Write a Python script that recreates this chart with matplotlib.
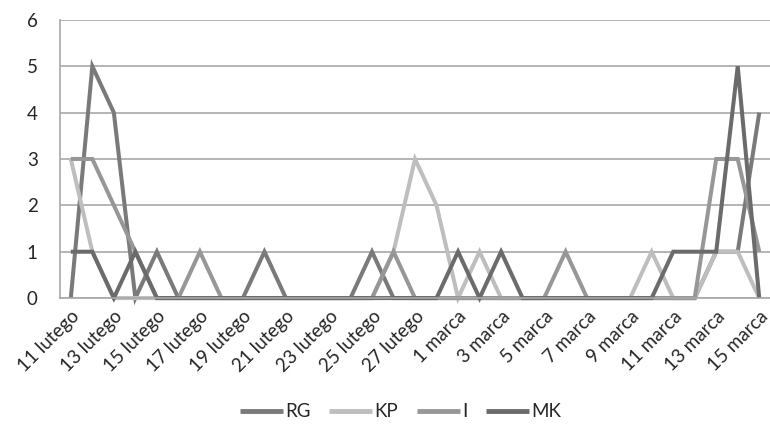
import matplotlib
matplotlib.use("Agg")
import matplotlib.pyplot as plt

plt.rcParams['font.family'] = ['Lato', 'DejaVu Sans']

# one value per day, 11 lutego .. 15 marca
RG = [0, 5, 4, 0, 1, 0, 0, 0, 0, 1, 0, 0, 0, 0, 1, 0, 0,
      0, 0, 0, 0, 0, 0, 0, 0, 0, 0, 0, 0, 0, 1, 1, 4]
KP = [3, 1, 0, 0, 0, 0, 0, 0, 0, 0, 0, 0, 0, 0, 0, 1, 3,
      2, 0, 1, 0, 0, 0, 0, 0, 0, 0, 1, 0, 0, 1, 1, 0]
I = [3, 3, 2, 1, 0, 0, 1, 0, 0, 0, 0, 0, 0, 0, 0, 1, 0,
     0, 0, 0, 0, 0, 0, 1, 0, 0, 0, 0, 0, 0, 3, 3, 1]
MK = [1, 1, 0, 1, 0, 0, 0, 0, 0, 0, 0, 0, 0, 0, 0, 0, 0,
      0, 1, 0, 1, 0, 0, 0, 0, 0, 0, 0, 1, 1, 1, 5, 0]

tick_labels = ["11 lutego", "13 lutego", "15 lutego", "17 lutego", "19 lutego",
               "21 lutego", "23 lutego", "25 lutego", "27 lutego", "1 marca",
               "3 marca", "5 marca", "7 marca", "9 marca", "11 marca",
               "13 marca", "15 marca"]

series = [("RG", RG, "#7a7a7a"), ("KP", KP, "#bebebe"),
          ("I", I, "#979797"), ("MK", MK, "#6b6b6b")]

fig = plt.figure(figsize=(7.7, 4.32), dpi=100)
ax = fig.add_axes([0.078, 0.31, 0.922, 0.644])

x = list(range(len(RG)))
for name, vals, col in series:
    ax.plot(x, vals, color=col, lw=2.9, label=name, clip_on=False,
            solid_joinstyle="miter", solid_capstyle="butt")

ax.set_xlim(-0.5, len(RG) - 0.5)
ax.set_ylim(0, 6)
ax.set_yticks(range(7))
ax.yaxis.grid(True, color="#a8a8a8", lw=1.2)
ax.set_axisbelow(True)

ax.set_xticks(x[::2])
ax.set_xticklabels(tick_labels, rotation=45, ha="right", va="top",
                   rotation_mode="anchor")
ax.tick_params(axis="both", length=0, labelsize=13.5, colors="#262626")
ax.tick_params(axis="x", pad=7)
ax.tick_params(axis="y", pad=16)

for s in ["top", "right"]:
    ax.spines[s].set_visible(False)
for s in ["left", "bottom"]:
    ax.spines[s].set_color("#a8a8a8")
    ax.spines[s].set_linewidth(1.2)

leg = fig.legend(loc="center", bbox_to_anchor=(0.52, 0.047), ncol=4,
                 frameon=False, fontsize=13.5, handlelength=2.3,
                 handletextpad=0.1, columnspacing=1.0)
for line in leg.get_lines():
    line.set_linewidth(3.5)
for t in leg.get_texts():
    t.set_color("#262626")

fig.savefig("out.png", dpi=100)
